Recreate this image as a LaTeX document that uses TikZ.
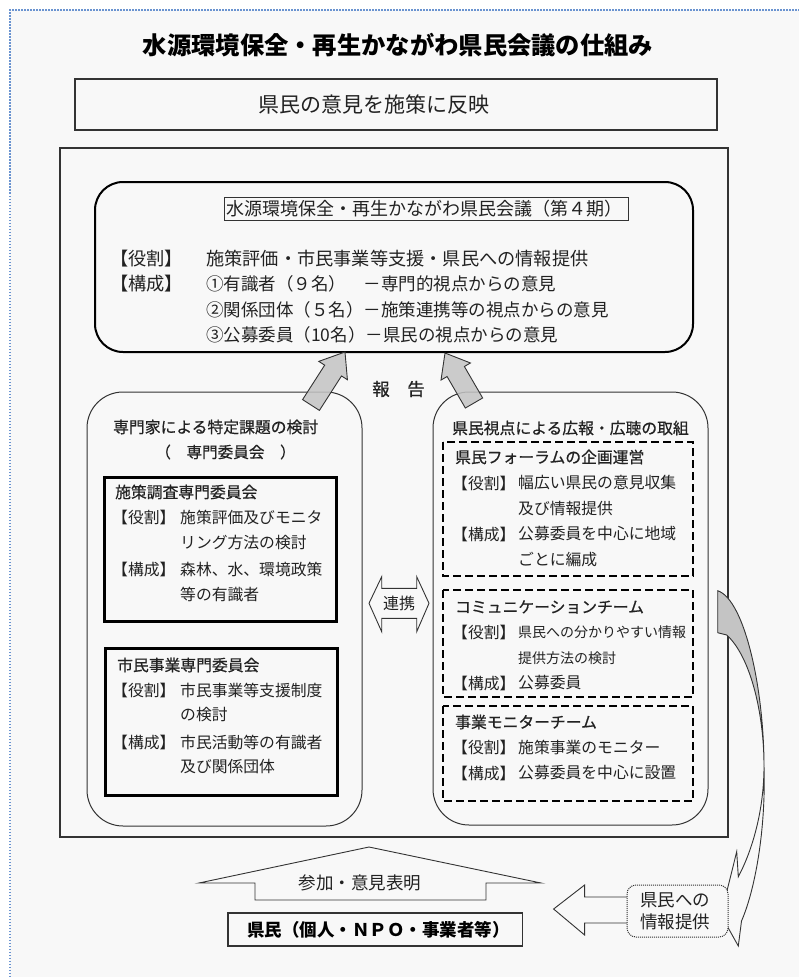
\documentclass[tikz,border=0pt]{standalone}
\usepackage{fontspec}
\newfontfamily\jp{Noto Sans CJK JP}
\newfontfamily\jpm[FakeBold=0.6]{Noto Sans CJK JP}
\usetikzlibrary{calc}
\definecolor{bgc}{HTML}{F8F8F8}
\definecolor{frameblue}{HTML}{6A93D0}
\definecolor{txt}{HTML}{222222}
\definecolor{arrowgray}{HTML}{C4C4C4}
\definecolor{linec}{HTML}{333333}
\newcommand\fsz[1]{\fontsize{#1}{#1}\selectfont}
\tikzset{
  txtw/.style={inner sep=0pt, anchor=west, text=txt},
  txtc/.style={inner sep=0pt, anchor=center, text=txt},
  sz/.style={font={\jp\fsz{#1}}},
  msz/.style={font={\jpm\fsz{#1}}, text=black},
  bsz/.style={font={\jp\bfseries\fsz{#1}}},
  thinbox/.style={draw=linec, line width=1.1pt},
  roundbox/.style={draw=linec, line width=1pt, rounded corners=36pt},
  solidbox/.style={draw=black, line width=3pt},
  dashbox/.style={draw=black, line width=2.5pt, dash pattern=on 8pt off 4pt},
  garrow/.style={fill=arrowgray, fill opacity=0.85, draw=linec, line width=0.9pt},
  wshape/.style={fill=bgc, draw=linec, line width=0.9pt},
}
\begin{document}
\begin{tikzpicture}[x=1pt,y=-1pt]
\useasboundingbox (0,0) rectangle (799,977);
% background frame
\fill[white] (0,0) rectangle (799,977);
\fill[bgc] (10,10) rectangle (799,977);
\draw[frameblue, line width=1.5pt, dash pattern=on 1.5pt off 1.5pt] (10,977) -- (10,10) -- (799,10);

% title
\node[bsz=24.3, txtc, text=black] (title) at (398,45) {水源環境保全・再生かながわ県民会議の仕組み};

% reflect box
\draw[thinbox] (75,79) rectangle (717,130);
\node[sz=21, txtc] (reflect) at (374,105) {県民の意見を施策に反映};

% outer box
\draw[thinbox] (60,148) rectangle (728,837);

% council box
\draw[draw=black, line width=2pt, rounded corners=28pt] (95,182) rectangle (693,352);
\draw[draw=linec, line width=0.8pt] (224,197) rectangle (628,220);
\node[sz=18, txtw] (ctitle) at (226,209) {水源環境保全・再生かながわ県民会議（第４期）};
\node[sz=18.2, txtw] (ck1) at (110,259) {【役割】};
\node[sz=18.2, txtw] (ct1) at (206,259) {施策評価・市民事業等支援・県民への情報提供};
\node[sz=18.2, txtw] (ck2) at (110,284) {【構成】};
\node[sz=17.5, txtw] (ct2) at (206,284) {①有識者（９名）　－専門的視点からの意見};
\node[sz=17.5, txtw] (ct3) at (206,310) {②関係団体（５名）－施策連携等の視点からの意見};
\node[sz=17.5, txtw] (ct4) at (206,335) {③公募委員（10名）－県民の視点からの意見};

% left rounded box
\draw[roundbox] (87,392) rectangle (362,826);
\node[msz=15.8, txtw] (lh) at (113,427) {専門家による特定課題の検討};
\node[msz=15.6, txtc] (lsub) at (225.5,452) {（　専門委員会　）};
\draw[solidbox] (104,477) rectangle (336,621);
\node[msz=15.8, txtw] (b1h) at (115,492) {施策調査専門委員会};
\node[sz=15.8, txtw] (b1k1) at (112,517) {【役割】};
\node[sz=15.8, txtw] (b1t1) at (180,517) {施策評価及びモニタ};
\node[sz=15.8, txtw] (b1t2) at (180,543) {リング方法の検討};
\node[sz=15.8, txtw] (b1k2) at (112,569) {【構成】};
\node[sz=15.8, txtw] (b1t3) at (180,569) {森林、水、環境政策};
\node[sz=15.8, txtw] (b1t4) at (180,594) {等の有識者};
\draw[solidbox] (105,648) rectangle (337,795);
\node[msz=15.8, txtw] (b2h) at (117,665) {市民事業専門委員会};
\node[sz=15.8, txtw] (b2k1) at (112,690) {【役割】};
\node[sz=15.8, txtw] (b2t1) at (180,690) {市民事業等支援制度};
\node[sz=15.8, txtw] (b2t2) at (180,715) {の検討};
\node[sz=15.8, txtw] (b2k2) at (112,742) {【構成】};
\node[sz=15.8, txtw] (b2t3) at (180,742) {市民活動等の有識者};
\node[sz=15.8, txtw] (b2t4) at (180,767) {及び関係団体};

% right rounded box
\draw[roundbox] (433,392) rectangle (708,825);
\node[msz=15.8, txtw] (rh) at (452,428) {県民視点による広報・広聴の取組};
\draw[dashbox] (443,442) rectangle (693,576);
\node[msz=15.8, txtw] (f1h) at (455,457) {県民フォーラムの企画運営};
\node[sz=15.8, txtw] (f1k1) at (452,483) {【役割】};
\node[sz=15.8, txtw] (f1t1) at (518,483) {幅広い県民の意見収集};
\node[sz=15.8, txtw] (f1t2) at (518,509) {及び情報提供};
\node[sz=15.8, txtw] (f1k2) at (452,534) {【構成】};
\node[sz=15.8, txtw] (f1t3) at (518,534) {公募委員を中心に地域};
\node[sz=15.8, txtw] (f1t4) at (518,560) {ごとに編成};
\draw[dashbox] (443,590) rectangle (693,697);
\node[msz=15.8, txtw] (f2h) at (455,607) {コミュニケーションチーム};
\node[sz=15.8, txtw] (f2k1) at (452,632) {【役割】};
\node[sz=14, txtw] (f2t1) at (518,632) {県民への分かりやすい情報};
\node[sz=14, txtw] (f2t2) at (518,658) {提供方法の検討};
\node[sz=15.8, txtw] (f2k2) at (452,683) {【構成】};
\node[sz=15.8, txtw] (f2t3) at (518,683) {公募委員};
\draw[dashbox] (443,706) rectangle (693,801);
\node[msz=15.8, txtw] (f3h) at (455,722) {事業モニターチーム};
\node[sz=15.8, txtw] (f3k1) at (452,747) {【役割】};
\node[sz=15.8, txtw] (f3t1) at (518,747) {施策事業のモニター};
\node[sz=15.8, txtw] (f3k2) at (452,773) {【構成】};
\node[sz=15.8, txtw] (f3t2) at (518,773) {公募委員を中心に設置};

% report arrows
\node[msz=17.5, txtc] (report) at (398.5,389) {報　告};
\coordinate (ra1) at (311,405); \coordinate (rt1) at (345,352);
\coordinate (rb1) at ($(ra1)!0.65!(rt1)$);
\filldraw[garrow] ($(ra1)!10pt!90:(rt1)$) -- ($(rb1)!10pt!90:(rt1)$) -- ($(rb1)!17pt!90:(rt1)$) -- (rt1) -- ($(rb1)!17pt!-90:(rt1)$) -- ($(rb1)!10pt!-90:(rt1)$) -- ($(ra1)!10pt!-90:(rt1)$) -- cycle;
\coordinate (ra2) at (474,403); \coordinate (rt2) at (445,353);
\coordinate (rb2) at ($(ra2)!0.63!(rt2)$);
\filldraw[garrow] ($(ra2)!10pt!90:(rt2)$) -- ($(rb2)!10pt!90:(rt2)$) -- ($(rb2)!17pt!90:(rt2)$) -- (rt2) -- ($(rb2)!17pt!-90:(rt2)$) -- ($(rb2)!10pt!-90:(rt2)$) -- ($(ra2)!10pt!-90:(rt2)$) -- cycle;

% renkei double arrow
\filldraw[wshape] (381.7,588.3) -- (381.7,576.7) -- (369,603.3) -- (381.7,631.7) -- (381.7,618.3) -- (416.7,618.3) -- (416.7,631.7) -- (429,603.3) -- (416.7,576.7) -- (416.7,588.3) -- cycle;
\node[sz=16, txtc] (renkei) at (399,603) {連携};

% curved arrow on the right
\coordinate (cA) at (717.7,590.7);
\coordinate (cB) at (717.7,632.7);
\coordinate (cC) at (726.7,635);
\coordinate (cX) at (764,766);
\filldraw[fill=arrowgray, draw=linec, line width=0.9pt] (cA) .. controls (745,600) and (764,690) .. (cX) .. controls (764,712) and (750,656) .. (cC) -- (cB) -- cycle;
\filldraw[wshape] (cX) .. controls (764,815) and (750,855) .. (738.3,876.7) -- (736.7,851.7) -- (721,915) -- (738.3,946) -- (741.5,921) .. controls (755,890) and (766,830) .. (cX) -- cycle;

% left-pointing arrow to citizens
\filldraw[wshape] (640,897) -- (584.6,897) -- (584.6,885) -- (553.6,909) -- (584.6,935) -- (584.6,923) -- (640,923) -- cycle;

% callout
\filldraw[fill=bgc, draw=linec, line width=1pt, dash pattern=on 1pt off 1pt, rounded corners=9pt] (627,885) rectangle (728,937);
\node[sz=17.5, txtw] (call1) at (640,900) {県民への};
\node[sz=17.5, txtw] (call2) at (640,922) {情報提供};

% up arrow
\filldraw[wshape] (255,900) -- (255,883) -- (199,883) -- (369,847) -- (541,883) -- (486,883) -- (486,900) -- cycle;
\node[sz=17.5, txtc] (sanka) at (360,883) {参加・意見表明};

% citizens box
\draw[thinbox] (228,913) rectangle (522.5,946);
\node[bsz=17.5, txtc, text=black] (kenmin) at (378.5,929.5) {県民（個人・ＮＰＯ・事業者等）};
\end{tikzpicture}
\end{document}
